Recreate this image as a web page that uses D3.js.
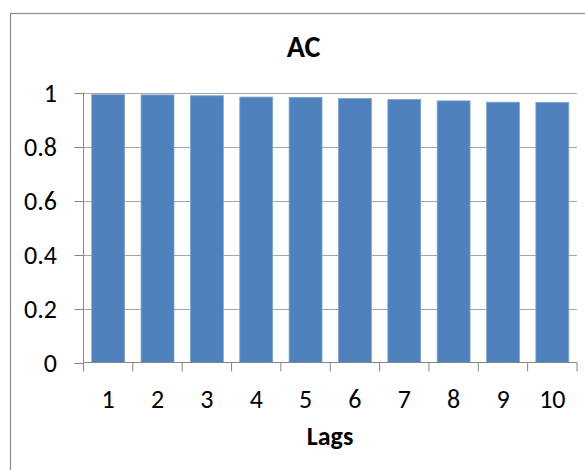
<!DOCTYPE html>
<html>
<head>
<meta charset="utf-8">
<script src="https://cdn.jsdelivr.net/npm/d3@7"></script>
<style>
  html, body { margin: 0; padding: 0; background: #fff; }
  svg { display: block; }
  text { font-family: Carlito, Calibri, Lato, "Open Sans", sans-serif; fill: #000; }
</style>
</head>
<body>
<svg id="chart" width="585" height="470"></svg>
<script>
const lags = ["1","2","3","4","5","6","7","8","9","10"];
const acValues = [0.992, 0.991, 0.988, 0.983, 0.982, 0.978, 0.974, 0.969, 0.964, 0.963];
const yTicks = [0, 0.2, 0.4, 0.6, 0.8, 1];
const chartTitle = "AC";
const xTitle = "Lags";

(function () {
const svg = d3.select("#chart");

// outer chart border
svg.append("rect")
  .attr("x", 10.5).attr("y", 13.5)
  .attr("width", 600).attr("height", 500)
  .attr("fill", "#fff").attr("stroke", "#8c8c8c").attr("stroke-width", 1.2);

const pLeft = 83.5, pRight = 577, pTop = 92.5, pBottom = 362.5;

const x = d3.scaleBand().domain(lags).range([pLeft, pRight]).paddingInner(1/3).paddingOuter(1/6);
const xb = d3.scaleBand().domain(lags).range([pLeft, pRight]);
const y = d3.scaleLinear().domain([0, 1]).range([pBottom, pTop]);

// gridlines
svg.append("g").selectAll("line").data(yTicks.filter(d => d > 0)).join("line")
  .attr("x1", pLeft).attr("x2", pRight)
  .attr("y1", d => Math.round(y(d)) + 0.5).attr("y2", d => Math.round(y(d)) + 0.5)
  .attr("stroke", "#a6a6a6").attr("stroke-width", 1);

// bars
svg.append("g").selectAll("rect").data(acValues).join("rect")
  .attr("x", (d, i) => x(lags[i]))
  .attr("width", x.bandwidth())
  .attr("y", d => y(d))
  .attr("height", d => y(0) - y(d))
  .attr("fill", "#4f81bd")
  .attr("stroke", "#7fa3d1").attr("stroke-width", 0.8);

// y axis
const yAxis = d3.axisLeft(y).tickValues(yTicks).tickSize(9).tickPadding(16)
  .tickFormat(d => String(+d.toFixed(1)));
const gy = svg.append("g").attr("transform", `translate(${pLeft},0)`).call(yAxis);
gy.select(".domain").attr("stroke", "#868686").attr("d", `M0,${pTop}V${pBottom}`);
gy.selectAll(".tick line").attr("stroke", "#868686");
gy.selectAll(".tick").attr("transform", d => `translate(0,${Math.round(y(d)) + 0.5})`);
gy.selectAll(".tick text").attr("font-size", 26).attr("x", -26.5).attr("dy", "0.34em")
  .style("font-family", "Carlito, Calibri, Lato, sans-serif").attr("fill", "#111");

// x axis
const gx = svg.append("g").attr("transform", `translate(0,${pBottom})`);
gx.append("line").attr("x1", pLeft).attr("x2", pRight).attr("y1", 0).attr("y2", 0).attr("stroke", "#868686");
const bounds = lags.map(l => xb(l)).concat([pRight]);
gx.selectAll("line.tk").data(bounds).join("line").attr("class", "tk")
  .attr("x1", d => d).attr("x2", d => d).attr("y1", 0).attr("y2", 9)
  .attr("stroke", "#868686");
gx.selectAll("text").data(lags).join("text")
  .attr("x", d => xb(d) + xb.bandwidth() / 2)
  .attr("y", 45)
  .attr("text-anchor", "middle")
  .attr("font-size", 26)
  .attr("fill", "#111")
  .text(d => d);

// titles
svg.append("text").attr("x", 303.5).attr("y", 57).attr("text-anchor", "middle")
  .attr("font-size", 30).attr("font-weight", "bold").text(chartTitle);
svg.append("text").attr("x", 330).attr("y", 445).attr("text-anchor", "middle")
  .attr("font-size", 26).attr("font-weight", "bold").text(xTitle);
})();
</script>
</body>
</html>
